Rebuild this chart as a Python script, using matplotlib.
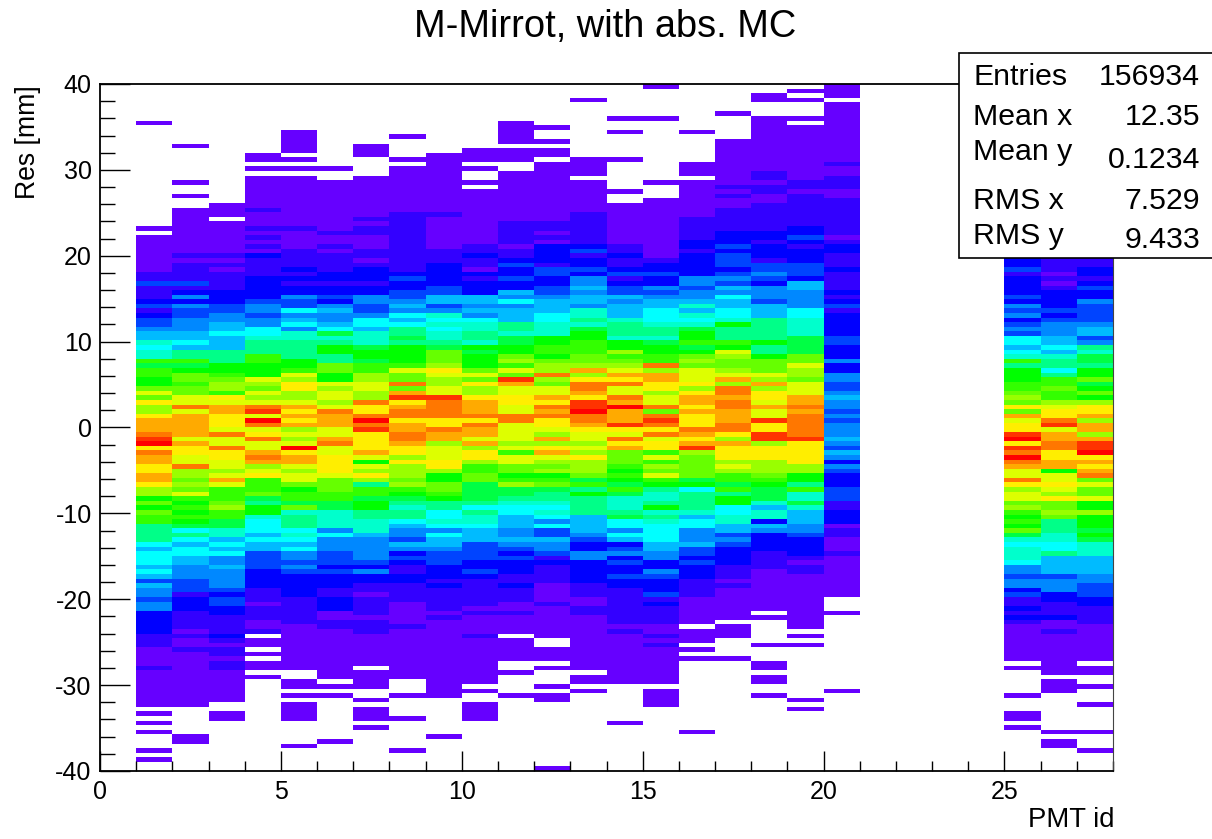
import re
import numpy as np
import matplotlib
matplotlib.use("Agg")
import matplotlib.pyplot as plt
from matplotlib.colors import ListedColormap, BoundaryNorm
from matplotlib.patches import Rectangle
from matplotlib.ticker import MultipleLocator

plt.rcParams['font.family'] = ['Liberation Sans', 'DejaVu Sans']
plt.rcParams['axes.unicode_minus'] = False

TITLE = "M-Mirrot, with abs. MC"
X_LABEL = "PMT id"
Y_LABEL = "Res [mm]"
STATS_NAMES = ["Entries", "Mean x", "Mean y", "RMS x", "RMS y"]
STATS_VALUES = ["156934", "12.35", "0.1234", "7.529", "9.433"]

# Palette: one colour per contour level (a = lowest ... t = highest)
LEVELS = "abcdefghijklmnopqrst"
PALETTE = ["#6600ff", "#3300ff", "#0000ff", "#0044ff", "#0088ff", "#00bbff", "#00ffff",
           "#00ffcc", "#00ff88", "#00ff44", "#00ff00", "#33ff00", "#66ff00", "#99ff00",
           "#ddff00", "#ffee00", "#ffaa00", "#ff7700", "#ff3300", "#ff0000"]

N_BINS_Y = 150
PMT_IDS = [1, 2, 3, 4, 5, 6, 7, 8, 9, 10, 11, 12, 13, 14, 15, 16, 17, 18, 19, 20, 25, 26, 27]

# Each column: "<first bin from the top><level>" runs; "." = empty bin
PMT_01 = "8a 9. 31a 32. 33a 41b 43d 44b 47c 48d 49b 50c 51d 53e 54f 56h 57g 58h 60l 61j 62l 64k 66m 67o 68m 69p 70n 72p 73q 76r 77s 78t 79p 80r 81q 83p 85q 87p 88n 90k 91m 92k 93m 94l 96i 100g 101f 102g 105f 106g 107f 108d 109f 110e 112d 113e 115c 120b 123a 127b 128a 136. 137a 138. 139a 140. 141a 142. 145a 146. 147a 148."
PMT_02 = "13a 14. 21a 22. 24a 25. 27a 37b 38a 39b 43d 44b 45c 46e 47c 48e 49d 51e 54f 56g 57f 58i 60l 61j 62k 63m 65l 66m 68o 70r 71o 72q 77o 78q 79p 81o 83r 84n 86m 87n 88m 89o 90l 91k 92l 93k 94l 95k 96j 97g 98i 99g 100f 101g 103f 105e 108d 111b 112c 115b 119a 120b 121a 123b 124a 136. 142a 144."
PMT_03 = "26a 29. 30a 37b 38a 39b 40a 41b 45c 48d 50e 52f 54g 55f 58i 61k 63l 64m 65n 67l 68p 69o 70q 72p 75o 76r 77o 79r 80p 82o 84n 85o 86q 87o 88l 91m 92n 93l 95j 97h 99f 100g 101f 102g 103e 105f 106e 110d 111c 112d 114c 116b 120c 121b 122a 123b 125a 126b 128a 135. 137a 139."
PMT_04 = "15a 17. 18a 19. 20a 27b 28a 31b 32a 33b 34a 35b 36a 37c 38b 42c 47d 48e 50d 51e 53g 55h 56i 59l 61k 64o 65n 66m 67o 68n 69o 70r 71s 72o 73t 74r 75o 76p 77r 78o 80q 81r 82q 83n 84o 85p 86l 89m 90j 91i 92k 94h 95g 98f 99g 100f 102d 106c 110b 113a 114b 117a 119b 120. 121a 123. 124a 125. 126a 128. 129a 130."
PMT_05 = "10a 15. 16a 17. 18a 19. 20a 31b 32a 36b 40c 41b 42c 43b 44c 46e 47d 49g 50e 51f 52g 53e 54h 56i 60k 62l 63o 64n 65p 67n 69o 70q 71p 72q 73p 74q 75n 76o 77n 78o 79t 80p 81q 83o 84n 85o 87m 88k 89l 91j 92m 93h 94i 97g 98h 99g 100f 101g 102e 104d 105e 106d 107c 112b 118a 128. 130a 132. 133a 134. 135a 139. 144a 145."
PMT_06 = "18a 19. 21a 32b 33a 35b 36a 37b 41c 43b 44c 46d 47c 48e 49f 50e 52f 53g 54j 55h 56i 57k 59i 61m 63k 65o 66n 67o 69n 70o 71r 72q 75o 77q 78r 79o 81p 85o 86m 89l 91j 93h 97e 98g 99e 102d 105c 106d 107c 110b 112c 115a 117b 119a 130. 131a 132. 133a 134. 143a 144."
PMT_07 = "13a 16. 20a 29b 30a 31b 33a 36b 38a 39b 40c 43b 44c 46e 48d 50e 51g 53f 54h 57j 58k 60j 61l 63n 65o 67n 69r 70p 72r 73t 74r 75s 76p 80q 81o 82k 83o 84n 85p 86n 87i 88l 90j 91k 93i 95h 98f 99e 104d 105c 106e 107c 109b 111a 112b 116a 117b 120a 127. 128a 132. 134a 135. 136a 139. 140a 141."
PMT_08 = "11a 12. 16a 17. 18a 28b 41c 42d 43c 45d 47e 48f 49e 50g 51f 52g 53i 55j 56i 57k 61l 62o 63m 65r 66m 67q 68s 69p 70q 71r 73p 74q 76r 78q 79p 81n 82p 83n 86m 87n 88l 89k 90j 91i 92h 93i 95g 96f 97e 99d 100f 101e 102c 103d 104c 105b 107c 109b 113a 118b 119a 130. 133a 134. 138a 139. 145a 146."
PMT_09 = "15a 28b 29a 36b 39c 44d 46f 48d 49e 50h 51g 52h 53g 54h 56i 57j 58m 61n 62p 63o 64n 66o 68s 69r 73p 75r 76q 78n 79o 82p 84n 85k 87m 89l 90k 91i 93g 95h 96g 97e 98g 99f 101e 102d 105c 108b 109c 110b 115a 116b 117a 134. 142a 143."
PMT_10 = "14a 17. 18a 19. 21a 22. 23a 35b 37c 38b 40a 41c 42b 43c 46f 48e 49f 50e 51g 52h 54i 56h 57k 58j 59k 62m 63o 64m 65p 66n 68p 69q 72r 73p 74r 75q 77o 78q 79n 80p 82n 83l 85m 87j 91i 92g 93i 94h 96g 97f 100d 104c 106d 107c 108b 114a 115b 116a 120b 121a 131. 132a 133. 135a 139."
PMT_11 = "8a 13. 14a 17. 19a 30b 35a 36b 38c 39d 40c 42d 43c 45f 46e 47g 48e 49f 52i 54h 55j 57k 59m 60n 61l 62o 63m 64s 65q 66o 68p 70o 72r 74o 78n 79o 80l 81o 83m 85k 86l 87n 88j 90i 91h 92g 94f 97e 99f 100e 101d 102c 103d 104c 107b 109c 110b 113a 115b 116a 120. 121a 126. 128a 129. 133a 134."
PMT_12 = "9a 10. 12a 13. 14a 16. 17a 30b 32a 33b 34a 35c 39b 40d 42c 44d 46e 47f 50g 52h 55k 57l 59k 60m 61n 63r 64n 65m 66o 68q 69p 70r 71q 72r 73p 75o 76n 77q 78n 79p 80q 81o 82n 83m 84n 85k 86l 87m 88j 89i 91h 92g 93h 94g 95e 96g 97d 99f 100e 102d 103b 104c 105b 109a 113b 114a 121. 123a 126. 127a 128. 131a 132. 133a 135. 149a"
PMT_13 = "3a 4. 16a 20. 21a 28b 35c 36d 37b 38c 40d 41c 42e 44f 45e 46f 48e 49h 51i 52h 53j 54k 56l 59m 61n 62q 63n 64p 65r 67q 68p 69s 71t 72r 74q 75p 76o 78n 79o 80n 81p 82n 85m 86j 87l 88i 89k 90i 94f 98e 99d 100c 102e 104c 109b 112a 114b 116a 128. 129a 131. 132a 133."
PMT_14 = "7a 8. 10a 11. 16a 17. 23a 24. 26a 35b 37c 38b 40c 41d 42b 43c 44d 46f 47e 48f 51h 52i 55h 56k 58n 59l 60m 61n 62o 63q 64p 65r 66o 68r 69q 70t 71q 74s 75p 76o 77r 78p 79q 80m 83l 84k 85l 86k 87j 88l 89j 90h 93i 94j 95g 97e 98g 99f 100c 101d 102e 103c 104d 105c 107d 108c 110b 118a 119b 120a 131. 139a 140."
PMT_15 = "0a 1. 7a 8. 21a 22. 25a 38b 39c 41d 42c 44e 45d 46e 47f 49g 52h 53i 55h 56j 57k 59l 61r 62n 63q 65p 67n 68o 70r 71m 72r 73s 74r 75p 76r 77o 78p 80l 81o 82l 83n 84m 85o 86l 87k 88i 89h 91i 92k 93h 94i 95h 96g 100f 102e 104c 106e 107d 108c 111d 112b 113c 114b 118a 120b 121a 122b 123a 131. 132a 136."
PMT_16 = "10a 11. 17a 20. 21a 29b 34c 36b 37c 42e 44d 45e 47f 48h 49f 50h 51g 52h 53j 54k 56l 57j 58k 59m 60n 61m 62o 65p 66n 67p 68q 70p 71q 72p 75r 76q 77p 78q 79s 80n 81m 86j 87k 88g 89i 93h 94f 95g 97e 100f 101d 103c 104d 105c 108b 112a 118. 119a 122. 123a 124. 125a 126. 141a 142."
PMT_17 = "6a 7. 12a 22b 23a 24b 25a 27b 32c 35d 36c 37d 40c 41d 42e 43d 44f 45e 46g 47f 49g 51h 52k 53i 56l 57k 58o 59n 60m 62n 63o 64q 65n 66r 68q 69r 71q 74r 76p 77n 78q 79p 82n 83o 84n 85l 87j 88l 89i 90k 92g 94h 96f 98d 99e 100d 101c 105b 108a 109b 110a 117. 118a 121. 125a 126."
PMT_18 = "2a 4. 7a 19b 21a 22b 24a 26b 32c 34b 35c 38b 39d 41e 42d 43c 44e 47d 48f 51i 56k 57i 59k 60m 63o 64n 65q 66n 67p 69o 70q 71o 73s 74p 76s 78n 79p 82n 85m 86l 87k 88j 91h 92f 93h 95c 96f 97e 98c 102b 106a 115. 116a 117. 122a 123. 126a 128. 129a 131. 133a 134."
PMT_19 = "1a 2. 3a 4. 7a 8. 9a 21b 23a 24b 31c 33d 34c 35b 36c 39d 42c 43f 45e 49g 51h 55j 59m 61o 62n 64m 65o 68q 70r 71q 72r 77s 78p 83n 85k 87i 88l 89h 91j 92h 93f 96e 98d 99c 103b 104a 105b 107a 119. 120a 121. 122a 123. 134a 135. 136a 137."
PMT_20 = "0a 3. 4a 17b 18a 20b 23a 25b 33a 34b 35c 37b 40c 41b 45c 46b 47c 48d 49b 50c 55d 57c 60e 61c 63e 65d 67e 68f 69e 71d 72e 73d 74e 77f 78e 79d 80f 81e 82c 83e 84d 85c 88d 91b 93c 96a 97b 99a 102b 103a 112. 115a 116. 132a 133."
PMT_25 = "38c 40d 41b 42c 46d 47c 48e 49d 50e 51c 52d 53e 54d 55g 57f 58g 59h 60l 61i 62k 65l 67m 68n 69m 70p 71m 72q 73o 74p 76s 77t 78p 79s 80r 81t 82r 83q 84o 86r 87p 88n 89o 91m 92n 93l 94k 95l 96k 97m 98j 99h 100g 101h 104g 105e 107d 108e 110c 111d 112b 114c 115b 116c 117b 118a 126. 127a 128. 133a 134. 137a 139. 140a 141."
PMT_26 = "38b 41a 42b 43a 44b 45c 49d 50c 51d 52e 55f 57g 58f 59h 60i 62g 63i 64l 66m 67l 69n 70o 71p 73r 74s 75o 76q 78r 80p 82q 84k 85o 87p 88o 89n 90p 91m 93n 94m 95i 98h 100g 102i 103f 107d 108e 111c 113b 116c 117a 119b 120a 129. 130a 133. 141a 142. 143a 145."
PMT_27 = "38b 40c 42b 43c 44d 45c 47e 48d 52e 53f 55d 56e 57i 58h 59j 61i 62k 64m 65j 66k 67m 68k 69n 70p 72q 73n 74q 76n 77q 78s 80t 81p 82q 83p 84q 85r 86m 87o 88m 90o 91k 93n 94k 97j 98k 99j 100h 103f 107e 109d 112c 114b 118a 126. 127a 129. 131a 132. 135a 136. 141a 142. 145a 146."

COLUMNS = [PMT_01, PMT_02, PMT_03, PMT_04, PMT_05, PMT_06, PMT_07, PMT_08, PMT_09, PMT_10,
           PMT_11, PMT_12, PMT_13, PMT_14, PMT_15, PMT_16, PMT_17, PMT_18, PMT_19, PMT_20,
           PMT_25, PMT_26, PMT_27]


def decode(col):
    """Turn a run string into bin levels ordered from y = -40 upwards."""
    out = np.full(N_BINS_Y, np.nan)
    runs = [(int(m[0]), m[1]) for m in re.findall(r"(\d+)([a-t.])", col)]
    for i, (start, lev) in enumerate(runs):
        end = runs[i + 1][0] if i + 1 < len(runs) else N_BINS_Y
        if lev != ".":
            out[start:end] = LEVELS.index(lev)
    return out[::-1]


W, H = 1212, 839
fig = plt.figure(figsize=(W / 100, H / 100), dpi=100, facecolor="white")
L, R, T, B = 100.0, 1113.0, 84.0, 771.0
ax = fig.add_axes([L / W, 1 - B / H, (R - L) / W, (B - T) / H])

grid = np.full((N_BINS_Y, 28), np.nan)
for pmt, col in zip(PMT_IDS, COLUMNS):
    grid[:, pmt] = decode(col)

x_edges = np.arange(0, 29)
y_edges = np.linspace(-40, 40, N_BINS_Y + 1)
cmap = ListedColormap(PALETTE)
norm = BoundaryNorm(np.arange(-0.5, 20.5), cmap.N)
ax.pcolormesh(x_edges, y_edges, np.ma.masked_invalid(grid), cmap=cmap, norm=norm,
              shading="flat", antialiased=False, linewidth=0, zorder=1)

ax.set_xlim(0, 28)
ax.set_ylim(-40, 40)
ax.xaxis.set_major_locator(MultipleLocator(5))
ax.xaxis.set_minor_locator(MultipleLocator(1))
ax.yaxis.set_major_locator(MultipleLocator(10))
ax.yaxis.set_minor_locator(MultipleLocator(2))
ax.tick_params(axis="x", which="major", direction="in", length=14.4, width=1.0, pad=6.5, labelsize=18)
ax.tick_params(axis="x", which="minor", direction="in", length=7.2, width=1.0)
ax.tick_params(axis="y", which="major", direction="in", length=21.6, width=1.0, pad=6, labelsize=18)
ax.tick_params(axis="y", which="minor", direction="in", length=10.8, width=1.0)
for s in ax.spines.values():
    s.set_linewidth(1.3)
    s.set_color("black")
    s.set_zorder(3)
ax.spines["right"].set_linewidth(0.8)
ax.spines["right"].set_color("#444444")
ax.set_axisbelow(False)


def px(x, y):
    return x / W, 1 - y / H


fig.text(*px(605, 27), TITLE, fontsize=27.4, ha="center", va="center", color="black")
fig.text(*px(1115, 820), X_LABEL, fontsize=19.8, ha="right", va="center", color="black")
fig.text(*px(28, 85), Y_LABEL, fontsize=19.2, ha="center", va="top", rotation=90, color="black")

bx0, by0 = px(959, 258)
bx1, by1 = px(1214, 53)
fig.add_artist(Rectangle((bx0, by0), bx1 - bx0, by1 - by0, transform=fig.transFigure,
                         facecolor="white", edgecolor="black", linewidth=1.2, zorder=5))
NAME_BASE = [85, 125, 160, 209, 244]
VALUE_BASE = [85, 125, 168, 209, 248]
for name, value, yn, yv in zip(STATS_NAMES, STATS_VALUES, NAME_BASE, VALUE_BASE):
    fig.text(*px(973, yn), name, fontsize=21.8, ha="left", va="baseline", zorder=6, color="black")
    fig.text(*px(1200, yv), value, fontsize=21.8, ha="right", va="baseline", zorder=6, color="black")

fig.savefig("out.png", dpi=100, facecolor="white")
